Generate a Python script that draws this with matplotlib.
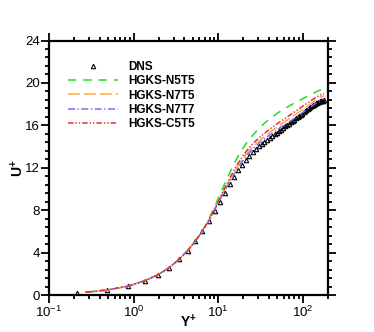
import numpy as np
import matplotlib
matplotlib.use('Agg')
import matplotlib.pyplot as plt
from matplotlib.ticker import MultipleLocator, LogLocator, NullFormatter

plt.rcParams['font.family'] = ['Liberation Sans', 'DejaVu Sans']
plt.rcParams['mathtext.fontset'] = 'custom'
plt.rcParams['mathtext.rm'] = 'Liberation Sans'
plt.rcParams['mathtext.bf'] = 'Liberation Sans:bold'
plt.rcParams['lines.scale_dashes'] = False

# DNS data (wall units)
yp_dns = [0.217, 0.488, 0.867, 1.354, 1.948, 2.650, 3.459, 4.374, 5.394, 6.520,
          7.751, 9.085, 10.52, 12.06, 13.70, 15.44, 17.28, 19.22, 21.25, 23.38,
          25.61, 27.93, 30.33, 32.84, 35.42, 38.10, 40.86, 43.70, 46.63, 49.64,
          52.72, 55.88, 59.12, 62.43, 65.81, 69.26, 72.77, 76.36, 80.00, 83.70,
          87.46, 91.28, 95.15, 99.07, 103.0, 107.1, 111.1, 115.2, 119.4, 123.5,
          127.7, 132.0, 136.3, 140.6, 144.9, 149.2, 153.6, 158.0, 162.4, 166.8,
          171.2, 175.6, 180.0]
u_dns = [0.20, 0.49, 0.86, 1.35, 1.93, 2.60, 3.38, 4.20, 5.08, 6.00,
         6.98, 7.90, 8.80, 9.62, 10.45, 11.15, 11.75, 12.25, 12.72, 13.15,
         13.52, 13.80, 14.03, 14.24, 14.44, 14.63, 14.81, 14.98, 15.15, 15.31,
         15.46, 15.61, 15.76, 15.90, 16.04, 16.17, 16.30, 16.43, 16.55, 16.67,
         16.79, 16.90, 17.01, 17.12, 17.22, 17.33, 17.43, 17.52, 17.62, 17.71,
         17.79, 17.88, 17.95, 18.03, 18.09, 18.15, 18.20, 18.25, 18.28, 18.31,
         18.33, 18.34, 18.35]

# HGKS results
yp_hgks = [0.27, 0.49, 0.87, 1.35, 1.95, 2.65, 3.46, 4.37, 5.39, 6.52, 7.75, 9.09,
           10.5, 12.0, 13.7, 15.4, 17.3, 19.2, 21.3, 25.6, 30.3, 35.4, 40.9, 46.6,
           52.7, 59.1, 65.8, 72.8, 80.0, 87.5, 95.1, 103.0, 111.0, 119.4, 127.7,
           136.3, 144.9, 153.6, 162.4, 171.2, 180.0]
u_n5t5 = [0.27, 0.49, 0.86, 1.35, 1.93, 2.60, 3.38, 4.22, 5.12, 6.05, 7.15, 8.30,
          9.45, 10.50, 11.50, 12.35, 13.10, 13.70, 14.25, 15.05, 15.70, 16.20, 16.60, 16.95,
          17.25, 17.50, 17.72, 17.92, 18.10, 18.27, 18.42, 18.56, 18.70, 18.83, 18.95,
          19.06, 19.16, 19.25, 19.33, 19.39, 19.44]
u_n7t5 = [0.27, 0.49, 0.86, 1.35, 1.93, 2.60, 3.38, 4.20, 5.09, 6.01, 7.00, 8.10,
          9.05, 9.95, 10.80, 11.55, 12.20, 12.75, 13.25, 13.98, 14.50, 14.95, 15.35, 15.68,
          15.98, 16.25, 16.50, 16.74, 16.96, 17.18, 17.38, 17.57, 17.75, 17.93, 18.10,
          18.25, 18.40, 18.53, 18.64, 18.73, 18.80]
u_n7t7 = [0.27, 0.49, 0.86, 1.35, 1.93, 2.60, 3.38, 4.20, 5.08, 6.00, 6.95, 8.00,
          8.95, 9.85, 10.65, 11.35, 12.00, 12.55, 13.05, 13.75, 14.28, 14.72, 15.10, 15.43,
          15.72, 15.98, 16.22, 16.45, 16.67, 16.88, 17.08, 17.27, 17.46, 17.64, 17.80,
          17.96, 18.11, 18.25, 18.37, 18.47, 18.55]
u_c5t5 = [0.27, 0.49, 0.86, 1.35, 1.93, 2.60, 3.38, 4.21, 5.10, 6.02, 7.05, 8.15,
          9.15, 10.10, 11.00, 11.75, 12.45, 13.00, 13.50, 14.25, 14.80, 15.25, 15.65, 15.98,
          16.28, 16.55, 16.80, 17.04, 17.26, 17.47, 17.67, 17.86, 18.04, 18.21, 18.37,
          18.52, 18.65, 18.77, 18.87, 18.95, 19.00]

fig = plt.figure(figsize=(3.74, 3.32), dpi=100)
ax = fig.add_axes([0.131, 0.111, 0.746, 0.767])

ax.plot(yp_dns, u_dns, linestyle='none', marker='^', ms=3.2, mfc='none',
        mec='black', mew=0.8, label='DNS')
ax.plot(yp_hgks, u_n5t5, color='#22dd22', lw=1.1, dashes=(6.0, 5.0), label='HGKS-N5T5')
ax.plot(yp_hgks, u_n7t5, color='#ffa64d', lw=1.1, dashes=(8.5, 3.0), label='HGKS-N7T5')
ax.plot(yp_hgks, u_n7t7, color='#7070ff', lw=1.1, dashes=(5.0, 1.8, 1.0, 1.8), label='HGKS-N7T7')
ax.plot(yp_hgks, u_c5t5, color='#e83030', lw=1.1, dashes=(4.0, 1.4, 1.0, 1.4, 1.0, 1.4), label='HGKS-C5T5')

ax.set_xscale('log')
ax.set_xlim(0.1, 200)
ax.set_ylim(0, 24)
ax.yaxis.set_major_locator(MultipleLocator(4))
ax.yaxis.set_minor_locator(MultipleLocator(0.8))
ax.xaxis.set_major_locator(LogLocator(base=10))
ax.xaxis.set_minor_locator(LogLocator(base=10, subs=np.arange(2, 10)))
ax.xaxis.set_minor_formatter(NullFormatter())

for s in ax.spines.values():
    s.set_linewidth(1.6)
ax.tick_params(which='both', direction='out', top=True, right=True, width=1.3, labelsize=9.5)
ax.tick_params(which='major', length=6)
ax.tick_params(which='minor', length=3)
ax.tick_params(axis='x', which='major', pad=1)
ax.tick_params(axis='y', which='major', pad=0.5)

ax.set_xlabel(r'$\mathbf{Y}^{\mathbf{+}}$', fontsize=10)
ax.set_ylabel(r'$\mathbf{U}^{\mathbf{+}}$', fontsize=10)
ax.xaxis.set_label_coords(0.5, -0.07)
ax.yaxis.set_label_coords(-0.083, 0.5)

leg = ax.legend(loc='upper left', bbox_to_anchor=(0.068, 0.92), frameon=False,
                borderpad=0, borderaxespad=0, handlelength=4.2, handletextpad=0.9,
                labelspacing=0.2, prop={'weight': 'bold', 'size': 8.5})

fig.savefig('out.png', dpi=100)
